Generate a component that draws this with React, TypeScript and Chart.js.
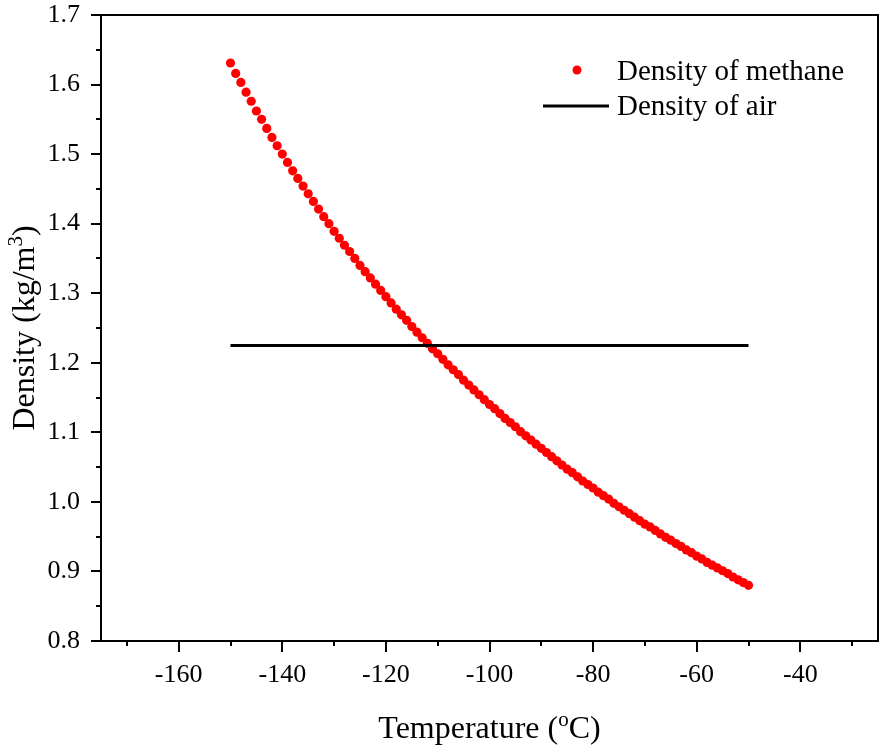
import { useEffect, useRef } from 'react';
import { Chart, registerables } from 'chart.js';

Chart.register(...registerables);

const temperatures = [
  -150, -149, -148, -147, -146, -145, -144, -143, -142, -141,
  -140, -139, -138, -137, -136, -135, -134, -133, -132, -131,
  -130, -129, -128, -127, -126, -125, -124, -123, -122, -121,
  -120, -119, -118, -117, -116, -115, -114, -113, -112, -111,
  -110, -109, -108, -107, -106, -105, -104, -103, -102, -101,
  -100, -99, -98, -97, -96, -95, -94, -93, -92, -91,
  -90, -89, -88, -87, -86, -85, -84, -83, -82, -81,
  -80, -79, -78, -77, -76, -75, -74, -73, -72, -71,
  -70, -69, -68, -67, -66, -65, -64, -63, -62, -61,
  -60, -59, -58, -57, -56, -55, -54, -53, -52, -51,
  -50,
];

const methaneDensity = [
  1.631, 1.616, 1.603, 1.589, 1.576, 1.562, 1.550, 1.537, 1.524, 1.512,
  1.500, 1.488, 1.476, 1.465, 1.454, 1.443, 1.432, 1.421, 1.410, 1.400,
  1.389, 1.379, 1.369, 1.360, 1.350, 1.340, 1.331, 1.322, 1.313, 1.304,
  1.295, 1.286, 1.277, 1.269, 1.261, 1.252, 1.244, 1.236, 1.228, 1.220,
  1.213, 1.205, 1.197, 1.190, 1.183, 1.175, 1.168, 1.161, 1.154, 1.147,
  1.140, 1.134, 1.127, 1.120, 1.114, 1.108, 1.101, 1.095, 1.089, 1.083,
  1.077, 1.071, 1.065, 1.059, 1.053, 1.047, 1.042, 1.036, 1.030, 1.025,
  1.020, 1.014, 1.009, 1.004, 0.998, 0.993, 0.988, 0.983, 0.978, 0.973,
  0.968, 0.964, 0.959, 0.954, 0.949, 0.945, 0.940, 0.936, 0.931, 0.927,
  0.922, 0.918, 0.913, 0.909, 0.905, 0.901, 0.897, 0.892, 0.888, 0.884,
  0.880,
];

const airTemperatures = [-150, -50];
const airDensity = [1.225, 1.225];

const xTickValues = [-170, -160, -150, -140, -130, -120, -110, -100, -90, -80, -70, -60, -50, -40, -30];
const xLabelValues = [-160, -140, -120, -100, -80, -60, -40];
const yTickValues = [0.8, 0.85, 0.9, 0.95, 1.0, 1.05, 1.1, 1.15, 1.2, 1.25, 1.3, 1.35, 1.4, 1.45, 1.5, 1.55, 1.6, 1.65, 1.7];
const yLabelValues = ['0.8', '0.9', '1.0', '1.1', '1.2', '1.3', '1.4', '1.5', '1.6', '1.7'];

const seriesNames = ['Density of methane', 'Density of air'];
const xTitleParts = ['Temperature (', 'o', 'C)'];
const yTitleParts = ['Density (kg/m', '3', ')'];

const FONT = "'Times New Roman', 'Liberation Serif', serif";

function isMajorX(v: number) {
  return xLabelValues.some((m) => Math.abs(m - v) < 1e-6);
}
function isMajorY(v: number) {
  return yLabelValues.some((m) => Math.abs(parseFloat(m) - v) < 1e-6);
}

const framePlugin = {
  id: 'frame',
  afterDraw(chart: any) {
    const { ctx, chartArea } = chart;
    const { left, right, top, bottom } = chartArea;
    const xs = chart.scales.x;
    const ys = chart.scales.y;
    ctx.save();
    ctx.strokeStyle = '#000';
    ctx.lineWidth = 2;
    ctx.strokeRect(left, top, right - left, bottom - top);
    // ticks
    ctx.beginPath();
    xs.ticks.forEach((t: any) => {
      const px = Math.round(xs.getPixelForValue(t.value));
      const len = isMajorX(t.value) ? 11 : 5;
      ctx.moveTo(px, bottom);
      ctx.lineTo(px, bottom + len);
    });
    ys.ticks.forEach((t: any) => {
      const py = Math.round(ys.getPixelForValue(t.value));
      const len = isMajorY(t.value) ? 10 : 5;
      ctx.moveTo(left, py);
      ctx.lineTo(left - len, py);
    });
    ctx.stroke();

    // axis titles with superscripts
    ctx.fillStyle = '#000';
    ctx.textBaseline = 'alphabetic';
    const big = `32px ${FONT}`;
    const small = `21px ${FONT}`;
    // x title
    ctx.font = big;
    const w1 = ctx.measureText(xTitleParts[0]).width;
    const w3 = ctx.measureText(xTitleParts[2]).width;
    ctx.font = small;
    const w2 = ctx.measureText(xTitleParts[1]).width;
    const totalX = w1 + w2 + w3;
    let cx = (left + right) / 2 - totalX / 2;
    const by = 738;
    ctx.textAlign = 'left';
    ctx.font = big;
    ctx.fillText(xTitleParts[0], cx, by);
    cx += w1;
    ctx.font = small;
    ctx.fillText(xTitleParts[1], cx, by - 12);
    cx += w2;
    ctx.font = big;
    ctx.fillText(xTitleParts[2], cx, by);

    // y title
    ctx.save();
    ctx.translate(34, (top + bottom) / 2);
    ctx.rotate(-Math.PI / 2);
    ctx.font = big;
    const a1 = ctx.measureText(yTitleParts[0]).width;
    const a3 = ctx.measureText(yTitleParts[2]).width;
    ctx.font = small;
    const a2 = ctx.measureText(yTitleParts[1]).width;
    let cy = -(a1 + a2 + a3) / 2;
    ctx.font = big;
    ctx.fillText(yTitleParts[0], cy, 0);
    cy += a1;
    ctx.font = small;
    ctx.fillText(yTitleParts[1], cy, -12);
    cy += a2;
    ctx.font = big;
    ctx.fillText(yTitleParts[2], cy, 0);
    ctx.restore();

    // legend
    ctx.font = `29px ${FONT}`;
    ctx.textBaseline = 'middle';
    ctx.textAlign = 'left';
    ctx.fillStyle = '#ff0000';
    ctx.beginPath();
    ctx.arc(right - 301, top + 55, 4.5, 0, Math.PI * 2);
    ctx.fill();
    ctx.fillStyle = '#000';
    ctx.fillText(seriesNames[0], right - 261, top + 57);
    ctx.strokeStyle = '#000';
    ctx.lineWidth = 3;
    ctx.beginPath();
    ctx.moveTo(right - 335, top + 91);
    ctx.lineTo(right - 269, top + 91);
    ctx.stroke();
    ctx.fillText(seriesNames[1], right - 261, top + 92);
    ctx.restore();
  },
};

export default function App() {
  const canvasRef = useRef<HTMLCanvasElement | null>(null);

  useEffect(() => {
    if (!canvasRef.current) return;
    const chart = new Chart(canvasRef.current, {
      type: 'scatter',
      data: {
        datasets: [
          {
            label: seriesNames[1],
            data: airTemperatures.map((t, i) => ({ x: t, y: airDensity[i] })),
            showLine: true,
            borderColor: '#000000',
            borderWidth: 3,
            pointRadius: 0,
            backgroundColor: '#000000',
          },
          {
            label: seriesNames[0],
            data: temperatures.map((t, i) => ({ x: t, y: methaneDensity[i] })),
            showLine: false,
            pointRadius: 4.6,
            pointBorderWidth: 0,
            backgroundColor: '#ff0000',
            borderColor: '#ff0000',
          },
        ],
      },
      options: {
        responsive: false,
        animation: false,
        layout: { padding: { top: 15, right: 5, left: 0, bottom: 0 } },
        plugins: {
          legend: { display: false },
          tooltip: { enabled: false },
          title: { display: false },
        },
        scales: {
          x: {
            type: 'linear',
            min: -175,
            max: -25,
            afterBuildTicks: (s: any) => {
              s.ticks = xTickValues.map((v) => ({ value: v }));
            },
            afterFit: (s: any) => {
              s.height = 105;
              s.paddingLeft = 0;
              s.paddingRight = 0;
            },
            grid: { display: false, drawTicks: false },
            border: { display: false },
            ticks: {
              autoSkip: false,
              maxRotation: 0,
              padding: 19,
              color: '#000',
              font: { family: FONT, size: 26 },
              callback: (v: any) => (isMajorX(Number(v)) ? String(v) : ''),
            },
          },
          y: {
            type: 'linear',
            min: 0.8,
            max: 1.7,
            afterBuildTicks: (s: any) => {
              s.ticks = yTickValues.map((v) => ({ value: v }));
            },
            afterFit: (s: any) => {
              s.width = 101;
              s.paddingTop = 0;
              s.paddingBottom = 0;
            },
            grid: { display: false, drawTicks: false },
            border: { display: false },
            ticks: {
              autoSkip: false,
              padding: 21,
              color: '#000',
              font: { family: FONT, size: 26 },
              callback: (v: any) => {
                const n = Number(v);
                const found = yLabelValues.find((m) => Math.abs(parseFloat(m) - n) < 1e-6);
                return found ?? '';
              },
            },
          },
        },
      },
      plugins: [framePlugin],
    });
    return () => chart.destroy();
  }, []);

  return (
    <div style={{ position: 'absolute', left: 0, top: 0, width: 883, height: 746, background: '#fff' }}>
      <canvas ref={canvasRef} width={883} height={746} style={{ display: 'block' }} />
    </div>
  );
}
